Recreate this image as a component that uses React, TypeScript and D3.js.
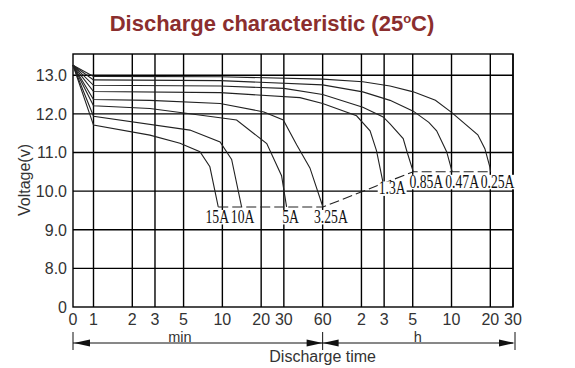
import React from "react";
import * as d3 from "d3";

// ---------- data ----------
const yTickValues = [7, 8, 9, 10, 11, 12, 13];
const yTickLabels = ["0", "8.0", "9.0", "10.0", "11.0", "12.0", "13.0"];
const minuteTicks = [1, 2, 3, 5, 10, 20, 30, 60];
const minuteTickLabels = ["1", "2", "3", "5", "10", "20", "30", "60"];
const hourTicks = [2, 3, 5, 10, 20, 30];
const hourTickLabels = ["2", "3", "5", "10", "20", "30"];

const seriesNames = ["15A", "10A", "5A", "3.25A", "1.3A", "0.85A", "0.47A", "0.25A"];

// [time in minutes, voltage]
const curve15A: [number, number][] = [
  [0, 13.26], [1, 11.71], [2.74, 11.45], [4.69, 11.24], [6.7, 11.02], [8.0, 10.63], [9.29, 9.59],
];
const curve10A: [number, number][] = [
  [0, 13.26], [1, 11.94], [5.6, 11.58], [9.6, 11.27], [11.8, 10.82], [14.1, 9.59],
];
const curve5A: [number, number][] = [
  [0, 13.26], [1, 12.21], [2.74, 12.14], [9.6, 11.9], [12.9, 11.84], [22.1, 11.23], [28.8, 10.4], [31.5, 9.59],
];
const curve3_25A: [number, number][] = [
  [0, 13.26], [1, 12.37], [2.74, 12.35], [9.6, 12.27], [21, 12.05], [29.7, 11.84], [37.7, 11.2], [47.8, 10.6], [60.3, 9.59],
];
const curve1_3A: [number, number][] = [
  [0, 13.26], [1, 12.58], [9.6, 12.55], [40, 12.42], [60, 12.27], [110, 11.95], [140, 11.56], [157, 11.05], [177, 10.2],
];
const curve0_85A: [number, number][] = [
  [0, 13.26], [1, 12.74], [9.6, 12.72], [30, 12.66], [60, 12.5], [123, 12.17], [177, 11.92], [200, 11.74], [253, 11.36], [272, 11.0], [303, 10.5],
];
const curve0_47A: [number, number][] = [
  [0, 13.26], [1, 12.88], [9.6, 12.86], [60, 12.75], [123, 12.57], [200, 12.35], [303, 12.07], [400, 11.78], [460, 11.56], [550, 11.02], [607, 10.5],
];
const curve0_25A: [number, number][] = [
  [0, 13.26], [1, 12.97], [9.6, 12.96], [60, 12.9], [123, 12.83], [200, 12.72], [303, 12.57], [450, 12.35], [600, 12.04], [960, 11.46], [1089, 11.1], [1191, 10.62], [1206, 10.5],
];
const curves = [curve15A, curve10A, curve5A, curve3_25A, curve1_3A, curve0_85A, curve0_47A, curve0_25A];

// ---------- layout ----------
const W = 575;
const H = 368;
const L = 73, R = 513, T = 54, B = 307;
const labelDx = [-1, 1, 4, 8, 9, 13, 10, 7];
const labelDy = [16, 16, 16, 16, 11, 16, 16, 16];

const xLog = d3.scaleLog().domain([1, 1800]).range([93.5, R]);
const x = (t: number) => (t <= 0 ? L : xLog(t));
const y = d3.scaleLinear().domain([7, 13.55]).range([B, T]);

const line = d3
  .line<[number, number]>()
  .x((d) => x(d[0]))
  .y((d) => y(d[1]));

const textCol = "#333";
const sans = "Liberation Sans, Arial, sans-serif";
const serif = "Liberation Serif, Times New Roman, serif";

function glyphW(s: string) {
  let w = 0;
  for (const c of s) w += c === "." ? 0.25 : c === "A" ? 0.72 : 0.5;
  return w;
}

function Arrow({ tipX, yy, dir }: { tipX: number; yy: number; dir: 1 | -1 }) {
  const len = 16, hw = 3.5;
  const bx = tipX - dir * len;
  return <path d={`M${tipX},${yy}L${bx},${yy - hw}L${bx},${yy + hw}Z`} fill="#111" />;
}

export default function App() {
  const ends = curves.map((c) => c[c.length - 1]);
  const x60 = x(60);
  const arrowY = 343;
  const labelFs = 18;
  const sx = 0.76;
  const tickY = 325;
  return (
    <svg width={W} height={H} style={{ position: "absolute", left: 0, top: 0, background: "#fff" }}>
      <rect x={0} y={0} width={W} height={H} fill="#fff" />
      {/* title */}
      <text x={272} y={31} textAnchor="middle" fontFamily={sans} fontWeight="bold" fontSize={22} fill="#8B2E2E">
        Discharge characteristic (25
        <tspan dy={-8} fontSize={13}>o</tspan>
        <tspan dy={8}>C)</tspan>
      </text>

      {/* grid */}
      <g stroke="#000" strokeWidth={1.4}>
        {yTickValues.filter((v) => v > 7).map((v) => (
          <line key={"h" + v} x1={L} x2={R} y1={y(v)} y2={y(v)} />
        ))}
        {minuteTicks.map((m) => (
          <line key={"vm" + m} x1={x(m)} x2={x(m)} y1={T} y2={B} />
        ))}
        {hourTicks.map((h) => (
          <line key={"vh" + h} x1={x(h * 60)} x2={x(h * 60)} y1={T} y2={B} />
        ))}
        <rect x={L} y={T} width={R - L} height={B - T} fill="none" />
      </g>

      {/* curves */}
      <g fill="none" stroke="#222" strokeWidth={1.1}>
        {curves.map((c, i) => (
          <path key={seriesNames[i]} d={line(c) || ""} />
        ))}
        <path d={line(ends) || ""} strokeDasharray="10,4" />
      </g>

      {/* curve labels */}
      {ends.map((e, i) => {
        const cx = x(e[0]) + labelDx[i];
        const by = y(e[1]) + labelDy[i];
        const w = glyphW(seriesNames[i]) * labelFs * sx;
        return (
          <g key={"lab" + i}>
            <rect x={cx - w / 2 - 1} y={by - 13} width={w + 2} height={14.5} fill="#fff" />
            <text
              transform={`translate(${cx},${by}) scale(${sx},1)`}
              textAnchor="middle"
              fontFamily={serif}
              fontSize={labelFs}
              fill="#111"
            >
              {seriesNames[i]}
            </text>
          </g>
        );
      })}

      {/* y tick labels */}
      {yTickValues.map((v, i) => (
        <text key={"yl" + v} x={67} y={y(v) + 6} textAnchor="end" fontFamily={sans} fontSize={16} fill={textCol}>
          {yTickLabels[i]}
        </text>
      ))}
      <text
        transform={`translate(30,180) rotate(-90)`}
        textAnchor="middle"
        fontFamily={sans}
        fontSize={16}
        fill={textCol}
      >
        Voltage(v)
      </text>

      {/* x tick labels */}
      <text x={x(0)} y={tickY} textAnchor="middle" fontFamily={sans} fontSize={16} fill={textCol}>0</text>
      {minuteTicks.map((m, i) => (
        <text key={"xm" + m} x={x(m)} y={tickY} textAnchor="middle" fontFamily={sans} fontSize={16} fill={textCol}>
          {minuteTickLabels[i]}
        </text>
      ))}
      {hourTicks.map((h, i) => (
        <text key={"xh" + h} x={x(h * 60)} y={tickY} textAnchor="middle" fontFamily={sans} fontSize={16} fill={textCol}>
          {hourTickLabels[i]}
        </text>
      ))}

      {/* time span arrows */}
      <g stroke="#111" strokeWidth={1}>
        <line x1={x(0)} x2={R} y1={arrowY} y2={arrowY} />
        <line x1={x(0)} x2={x(0)} y1={332} y2={350} />
        <line x1={x60} x2={x60} y1={332} y2={350} />
        <line x1={R + 2} x2={R + 2} y1={332} y2={350} />
      </g>
      <Arrow tipX={x(0) + 1} yy={arrowY} dir={-1} />
      <Arrow tipX={x60} yy={arrowY} dir={1} />
      <Arrow tipX={x60} yy={arrowY} dir={-1} />
      <Arrow tipX={R + 2} yy={arrowY} dir={1} />
      <text x={(x(0) + x60) / 2 - 18} y={342} textAnchor="middle" fontFamily={sans} fontSize={14.5} fill={textCol}>min</text>
      <text x={(x60 + R) / 2} y={342} textAnchor="middle" fontFamily={sans} fontSize={14.5} fill={textCol}>h</text>
      <text x={x60} y={362} textAnchor="middle" fontFamily={sans} fontSize={16} fill={textCol}>Discharge time</text>
    </svg>
  );
}
